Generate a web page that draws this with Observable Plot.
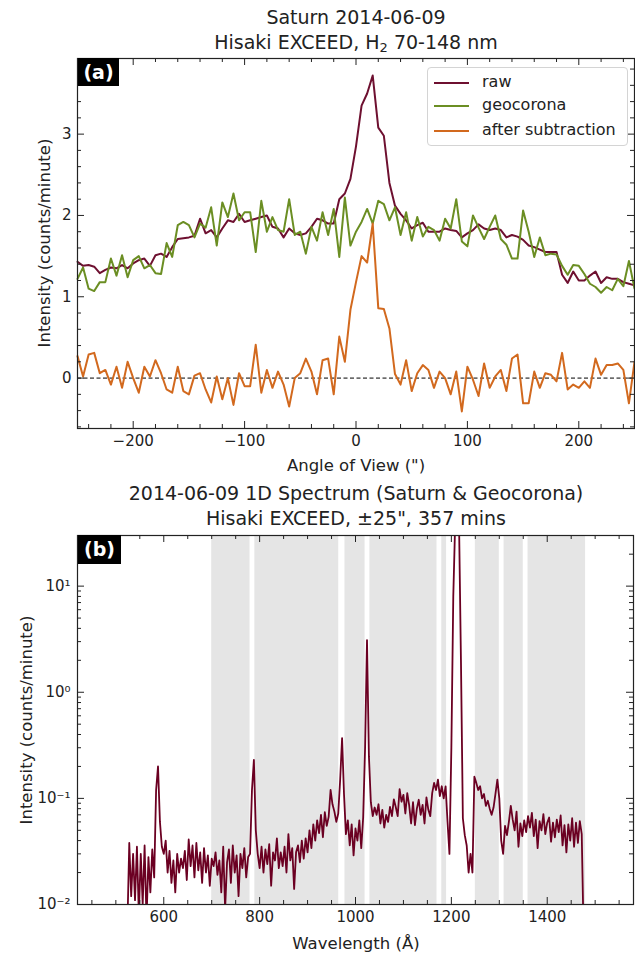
<!DOCTYPE html>
<html><head><meta charset="utf-8">
<script src="https://cdn.jsdelivr.net/npm/d3@7"></script>
<script src="https://cdn.jsdelivr.net/npm/@observablehq/plot@0.6"></script>
<style>
body{margin:0;background:#fff;}
#root{position:relative;width:635px;height:955px;overflow:hidden;font-family:"DejaVu Sans",sans-serif;color:#222;}
.t{position:absolute;text-align:center;white-space:nowrap;}
.title{font-size:19px;line-height:24px;left:77px;width:558px;}
.xl{font-size:16.5px;line-height:20px;left:77px;width:558px;}
.yl{font-size:16.5px;line-height:20px;width:320px;transform:rotate(-90deg);}
.tag{position:absolute;background:#000;color:#fff;font-weight:bold;font-size:19px;line-height:28px;text-align:center;}
.panel{position:absolute;left:0;}
#legend{position:absolute;left:427px;top:67px;width:199px;height:77px;border:1px solid #d4d4d4;border-radius:4px;background:rgba(255,255,255,0.85);font-size:16px;}
#legend .sw{position:absolute;left:6px;width:35px;height:2px;}
#legend .lt{position:absolute;left:54px;line-height:20px;}
</style></head><body><div id="root"></div>
<script>
// ---------------- Panel (a) data: angle of view (") ----------------
const angle = [-250,-245,-240,-235,-230,-225,-220,-215,-210,-205,
  -200,-195,-190,-185,-180,-175,-170,-165,-160,-155,
  -150,-145,-140,-135,-130,-125,-120,-115,-110,-105,
  -100,-95,-90,-85,-80,-75,-70,-65,-60,-55,
  -50,-45,-40,-35,-30,-25,-20,-15,-10,-5,
  0,5,10,15,20,25,30,35,40,45,
  50,55,60,65,70,75,80,85,90,95,
  100,105,110,115,120,125,130,135,140,145,
  150,155,160,165,170,175,180,185,190,195,
  200,205,210,215,220,225,230,235,240,245,250];
const rawVals = [1.43,1.38,1.39,1.37,1.29,1.33,1.36,1.35,1.39,1.35,
  1.41,1.45,1.47,1.38,1.51,1.53,1.49,1.61,1.71,1.72,
  1.73,1.75,1.96,1.78,1.82,1.73,1.84,1.94,1.92,2.02,
  1.92,1.94,1.96,1.98,2.00,1.86,1.84,1.73,1.84,1.78,
  1.76,1.78,1.86,1.96,1.94,1.90,1.90,2.20,2.27,2.45,
  2.85,3.35,3.50,3.72,3.08,2.98,2.40,2.12,2.02,1.94,
  1.84,1.88,1.91,1.80,1.80,1.80,1.84,1.82,1.81,1.73,
  1.78,1.82,1.89,1.84,1.82,1.84,1.82,1.73,1.76,1.74,
  1.70,1.63,1.61,1.58,1.55,1.55,1.55,1.27,1.17,1.31,
  1.20,1.20,1.26,1.31,1.17,1.24,1.22,1.22,1.18,1.16,1.14];
const geoVals = [1.22,1.36,1.10,1.07,1.18,1.18,1.47,1.26,1.51,1.24,
  1.45,1.50,1.35,1.39,1.29,1.28,1.66,1.49,1.88,1.92,
  1.88,1.73,1.90,1.85,2.10,1.63,2.16,1.98,2.27,1.94,
  2.04,2.04,1.55,2.18,1.80,1.98,1.82,1.80,2.20,1.76,
  1.80,1.53,1.86,1.69,2.04,1.76,2.08,1.49,2.22,1.63,
  1.80,1.92,2.08,1.90,2.18,2.14,1.94,2.10,1.76,2.04,
  1.69,1.98,1.74,1.86,1.82,1.69,1.96,1.84,2.20,1.68,
  1.62,2.00,1.85,1.71,1.86,2.00,1.71,1.64,1.47,1.47,
  2.06,1.80,1.49,1.73,1.51,1.53,1.52,1.38,1.27,1.39,
  1.38,1.28,1.16,1.12,1.05,1.12,1.08,1.22,1.13,1.44,1.10];
const subVals = [0.27,0.02,0.29,0.31,0.06,0.10,-0.08,0.14,-0.12,0.20,
  0.00,-0.18,0.14,0.02,0.22,0.06,-0.14,-0.18,0.14,-0.16,
  -0.20,0.03,0.06,-0.14,-0.30,0.02,-0.26,0.00,-0.33,0.06,
  -0.10,-0.10,0.41,-0.18,0.10,-0.12,0.08,-0.08,-0.35,0.00,
  0.06,0.24,0.08,-0.20,0.22,0.24,-0.20,0.51,0.20,0.84,
  1.18,1.50,1.42,1.90,0.86,0.85,0.61,0.05,-0.08,0.22,
  -0.16,0.06,0.16,0.10,-0.12,0.08,0.00,-0.20,0.08,-0.41,
  0.14,-0.02,-0.22,0.18,-0.12,0.02,0.10,-0.16,0.24,0.29,
  -0.31,-0.31,0.08,-0.12,0.06,0.04,-0.04,0.31,-0.14,-0.08,
  -0.12,-0.04,-0.12,0.24,0.04,0.16,0.16,0.18,0.10,-0.31,0.20];
const seriesNames = ["raw","geocorona","after subtraction"];
const seriesColors = ["#6e1030","#6b8e23","#d2691e"];
const xTicksA = [-200,-100,0,100,200];
const xMinorA = [-240,-220,-180,-160,-140,-120,-80,-60,-40,-20,20,40,60,80,120,140,160,180,220,240];
const yTicksA = [0,1,2,3];
const yMinorA = [-0.6,-0.4,-0.2,0.2,0.4,0.6,0.8,1.2,1.4,1.6,1.8,2.2,2.4,2.6,2.8,3.2,3.4,3.6,3.8];

// ---------------- Panel (b) data: 1D spectrum ----------------
const wlStart = 524, wlStep = 4;
const specVals = [
  0.006,0.038,0.012,0.030,0.011,0.035,0.008,0.030,0.010,0.036,
  0.007,0.028,0.013,0.033,0.018,0.120,0.200,0.060,0.035,0.030,
  0.040,0.020,0.032,0.016,0.026,0.013,0.030,0.020,0.027,0.022,
  0.032,0.017,0.041,0.023,0.036,0.018,0.038,0.021,0.031,0.016,
  0.034,0.020,0.029,0.015,0.027,0.023,0.031,0.019,0.026,0.013,
  0.035,0.009,0.025,0.033,0.016,0.036,0.020,0.029,0.012,0.030,
  0.022,0.034,0.018,0.028,0.030,0.120,0.230,0.050,0.030,0.022,
  0.035,0.020,0.033,0.024,0.037,0.015,0.031,0.026,0.042,0.022,
  0.031,0.023,0.035,0.020,0.046,0.026,0.034,0.014,0.031,0.036,
  0.025,0.040,0.027,0.042,0.031,0.050,0.034,0.057,0.040,0.062,
  0.047,0.070,0.043,0.074,0.055,0.067,0.120,0.088,0.075,0.060,
  0.072,0.150,0.370,0.110,0.046,0.062,0.036,0.057,0.029,0.052,
  0.040,0.062,0.034,0.066,0.300,3.100,0.250,0.092,0.068,0.082,
  0.070,0.088,0.058,0.078,0.053,0.070,0.060,0.083,0.068,0.098,
  0.083,0.068,0.122,0.093,0.108,0.072,0.112,0.086,0.058,0.092,
  0.056,0.080,0.097,0.070,0.087,0.058,0.102,0.078,0.068,0.112,
  0.140,0.120,0.150,0.105,0.130,0.100,0.130,0.060,0.030,0.300,
  8.0,40.0,40.0,40.0,2.0,0.065,0.045,0.036,0.020,0.030,
  0.020,0.160,0.140,0.120,0.130,0.100,0.110,0.085,0.095,0.080,
  0.070,0.082,0.110,0.150,0.100,0.040,0.030,0.055,0.045,0.060,
  0.085,0.063,0.050,0.075,0.035,0.058,0.044,0.062,0.048,0.068,
  0.053,0.073,0.044,0.063,0.034,0.061,0.050,0.071,0.046,0.059,
  0.066,0.039,0.059,0.043,0.063,0.048,0.069,0.036,0.056,0.031,
  0.057,0.040,0.065,0.035,0.059,0.038,0.061,0.046,0.005];
const bandLo = [700,790,978,1030,1180,1250,1310,1360];
const bandHi = [780,965,1020,1170,1190,1300,1350,1480];
const xTicksB = [600,800,1000,1200,1400];
const xMinorB = [450,500,550,650,700,750,850,900,950,1050,1100,1150,1250,1300,1350,1450,1500,1550];
const yTicksB = [0.01,0.1,1,10];
const yTickLabelsB = ["10⁻²","10⁻¹","10⁰","10¹"];
const yMinorB = [0.02,0.03,0.04,0.05,0.06,0.07,0.08,0.09,0.2,0.3,0.4,0.5,0.6,0.7,0.8,0.9,2,3,4,5,6,7,8,9,20];

// ---------------- build ----------------
const root = document.getElementById("root");
const ink = "#222";
const fmt = d3.format("d");
function html(cls, css, text){ const d=document.createElement("div"); d.className=cls; d.style.cssText=css; d.innerHTML=text; root.appendChild(d); return d; }
function inTicks(xs, ys, fw, fh, maj, mino, xsMin, ysMin){
  return [
    Plot.ruleX(xs, {insetTop: fh - maj, stroke: ink}),
    Plot.ruleX(xs, {insetBottom: fh - maj, stroke: ink}),
    Plot.ruleX(xsMin, {insetTop: fh - mino, stroke: ink}),
    Plot.ruleX(xsMin, {insetBottom: fh - mino, stroke: ink}),
    Plot.ruleY(ys, {insetRight: fw - maj, stroke: ink}),
    Plot.ruleY(ys, {insetLeft: fw - maj, stroke: ink}),
    Plot.ruleY(ysMin, {insetRight: fw - mino, stroke: ink}),
    Plot.ruleY(ysMin, {insetLeft: fw - mino, stroke: ink})
  ];
}

// Panel (a)
const rowsA = [];
const valsBy = [rawVals, geoVals, subVals];
seriesNames.forEach((s, k) => angle.forEach((a, i) => rowsA.push({angle: a, v: valsBy[k][i], s})));
const WA = 635, HA = 430, mlA = 77, mrA = 1, mtA = 8, mbA = 52;
const plotA = Plot.plot({
  width: WA, height: HA, marginLeft: mlA, marginRight: mrA, marginTop: mtA, marginBottom: mbA,
  style: {fontFamily: "DejaVu Sans", fontSize: "15px", color: ink, background: "transparent", overflow: "visible"},
  x: {domain: [-250, 250]},
  y: {domain: [-0.62, 3.93]},
  color: {domain: seriesNames, range: seriesColors},
  marks: [
    Plot.ruleY([0], {stroke: "#000", strokeWidth: 1, strokeDasharray: "4,2.5"}),
    Plot.line(rowsA, {x: "angle", y: "v", z: "s", stroke: "s", strokeWidth: 2}),
    ...inTicks(xTicksA, yTicksA, WA - mlA - mrA, HA - mtA - mbA, 7, 4, xMinorA, yMinorA),
    Plot.axisX({ticks: xTicksA, tickSize: 0, tickPadding: 7, label: null, fontSize: 15, tickFormat: fmt}),
    Plot.axisY({ticks: yTicksA, tickSize: 0, tickPadding: 6, label: null, fontSize: 15, tickFormat: fmt}),
    Plot.frame({stroke: ink, strokeWidth: 1.2})
  ]
});
plotA.classList.add("panel"); plotA.style.top = "50px";
root.appendChild(plotA);

// Panel (b)
const spec = specVals.map((v, i) => ({wl: wlStart + i * wlStep, v}));
const bands = bandLo.map((lo, i) => ({lo, hi: bandHi[i]}));
const WB = 635, HB = 425, mlB = 77, mrB = 2, mtB = 5, mbB = 51;
const plotB = Plot.plot({
  width: WB, height: HB, marginLeft: mlB, marginRight: mrB, marginTop: mtB, marginBottom: mbB,
  style: {fontFamily: "DejaVu Sans", fontSize: "15px", color: ink, background: "transparent", overflow: "visible"},
  x: {domain: [420, 1580]},
  y: {type: "log", domain: [0.01, 30]},
  marks: [
    Plot.rect(bands, {x1: "lo", x2: "hi", fill: "#e5e5e5"}),
    Plot.line(spec, {x: "wl", y: "v", stroke: "#6b0022", strokeWidth: 1.8, clip: true}),
    ...inTicks(xTicksB, yTicksB, WB - mlB - mrB, HB - mtB - mbB, 7, 4, xMinorB, yMinorB),
    Plot.axisX({ticks: xTicksB, tickSize: 0, tickPadding: 7, label: null, fontSize: 15, tickFormat: fmt}),
    Plot.axisY({ticks: yTicksB, tickSize: 0, tickPadding: 7, label: null, fontSize: 15,
      tickFormat: d => yTickLabelsB[yTicksB.indexOf(d)]}),
    Plot.frame({stroke: ink, strokeWidth: 1.2})
  ]
});
plotB.classList.add("panel"); plotB.style.top = "530px";
root.appendChild(plotB);

// Text
html("t title", "top:5px;", "Saturn 2014-06-09");
html("t title", "top:30px;", "Hisaki EXCEED, H<sub style='font-size:13px;vertical-align:-3px;line-height:0'>2</sub> 70-148 nm");
html("t xl", "top:456px;", "Angle of View (\")");
html("t yl", "top:233px;left:-115px;", "Intensity (counts/minute)");
html("t title", "top:481px;", "2014-06-09 1D Spectrum (Saturn &amp; Geocorona)");
html("t title", "top:506px;", "Hisaki EXCEED, ±25\", 357 mins");
html("t xl", "top:934px;", "Wavelength (Å)");
html("t yl", "top:710px;left:-133px;", "Intensity (counts/minute)");
html("tag", "left:78px;top:58px;width:41px;height:28px;", "(a)");
html("tag", "left:78px;top:535px;width:43px;height:29px;", "(b)");

// Legend
const lg = document.createElement("div"); lg.id = "legend"; root.appendChild(lg);
seriesNames.forEach((s, k) => {
  const yy = [14, 37, 62][k];
  const sw = document.createElement("div"); sw.className = "sw";
  sw.style.top = yy + "px"; sw.style.background = seriesColors[k]; lg.appendChild(sw);
  const t = document.createElement("div"); t.className = "lt";
  t.style.top = (yy - 10) + "px"; t.textContent = s; lg.appendChild(t);
});
</script></body></html>
